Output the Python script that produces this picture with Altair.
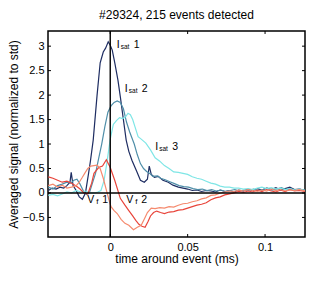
import altair as alt
import pandas as pd

# ---------------- data ----------------
isat1_x = [-0.040,-0.0375,-0.035,-0.0325,-0.030,-0.028,-0.026,-0.0252,-0.024,-0.022,-0.020,-0.018,-0.016,-0.014,-0.0128,-0.011,-0.0085,-0.0065,-0.0045,-0.003,-0.0013,0.0,0.0013,0.003,0.005,0.0065,0.0085,0.0103,0.012,0.014,0.017,0.0195,0.022,0.024,0.0252,0.0265,0.0285,0.031,0.034,0.0375,0.0405,0.044,0.047,0.050,0.053,0.056,0.059,0.062,0.065,0.068,0.071,0.074,0.077,0.080,0.083,0.086,0.089,0.092,0.095,0.098,0.101,0.104,0.107,0.110,0.113,0.116,0.119,0.122,0.126]
isat1_y = [0.05,0.10,0.08,0.12,0.10,0.15,0.22,0.42,0.15,0.05,-0.08,-0.13,0.0,0.4,0.65,1.08,2.0,2.66,2.88,2.96,3.09,3.02,2.92,2.65,2.3,1.97,1.5,1.08,0.85,0.67,0.45,0.26,0.22,0.28,0.55,0.38,0.32,0.34,0.26,0.22,0.16,0.12,0.10,0.08,0.05,0.06,0.03,0.05,0.04,0.02,0.06,0.03,0.05,0.02,0.06,0.04,0.08,0.05,0.09,0.06,0.10,0.07,0.11,0.06,0.09,0.12,0.07,0.08,0.05]

isat2_x = [-0.040,-0.037,-0.034,-0.031,-0.028,-0.0255,-0.0235,-0.0215,-0.0195,-0.0175,-0.0155,-0.0135,-0.0115,-0.0095,-0.0075,-0.0055,-0.0035,-0.0015,0.0005,0.0025,0.0045,0.0065,0.0085,0.0105,0.0125,0.0155,0.0175,0.0195,0.0215,0.0235,0.0255,0.0275,0.0305,0.0325,0.0355,0.0385,0.0415,0.0445,0.0475,0.0505,0.0535,0.0565,0.0595,0.0625,0.0655,0.0685,0.0715,0.0745,0.0775,0.0805,0.0835,0.0865,0.0895,0.0925,0.0955,0.0985,0.1015,0.1045,0.1075,0.1105,0.1135,0.1165,0.1195,0.1225,0.126]
isat2_y = [0.12,0.08,0.15,0.18,0.22,0.2,0.26,0.28,0.18,0.05,-0.03,0.0,0.2,0.4,0.7,1.0,1.35,1.65,1.78,1.85,1.88,1.85,1.72,1.45,1.25,1.0,0.78,0.6,0.5,0.44,0.4,0.34,0.35,0.3,0.27,0.23,0.19,0.15,0.13,0.12,0.09,0.07,0.08,0.05,0.07,0.04,0.06,0.03,0.05,0.07,0.04,0.06,0.05,0.08,0.05,0.07,0.1,0.06,0.08,0.11,0.07,0.09,0.06,0.08,0.05]

isat3_x = [-0.040,-0.037,-0.034,-0.031,-0.028,-0.025,-0.022,-0.019,-0.016,-0.013,-0.010,-0.008,-0.006,-0.004,-0.002,0.0,0.002,0.004,0.006,0.008,0.010,0.0115,0.013,0.0145,0.016,0.018,0.020,0.023,0.026,0.029,0.032,0.035,0.038,0.041,0.044,0.047,0.050,0.053,0.056,0.059,0.062,0.065,0.068,0.071,0.074,0.077,0.080,0.083,0.086,0.089,0.092,0.095,0.098,0.101,0.104,0.107,0.110,0.113,0.116,0.119,0.122,0.126]
isat3_y = [-0.05,-0.03,-0.06,-0.02,0.02,0.0,0.05,0.02,0.04,0.0,0.0,0.02,0.05,0.25,0.65,1.1,1.4,1.48,1.54,1.52,1.56,1.63,1.6,1.5,1.35,1.15,1.1,1.02,0.88,0.72,0.65,0.56,0.5,0.43,0.42,0.4,0.38,0.33,0.3,0.28,0.24,0.2,0.18,0.14,0.12,0.12,0.1,0.1,0.08,0.09,0.07,0.1,0.12,0.09,0.11,0.08,0.1,0.07,0.09,0.06,0.08,0.05]

vf1_x = [-0.040,-0.037,-0.034,-0.031,-0.028,-0.025,-0.022,-0.0195,-0.017,-0.0145,-0.012,-0.0105,-0.0075,-0.005,-0.0025,0.0,0.003,0.0065,0.0095,0.012,0.0145,0.0165,0.0185,0.0205,0.0225,0.0245,0.026,0.028,0.030,0.0325,0.035,0.038,0.041,0.044,0.047,0.050,0.053,0.056,0.059,0.062,0.065,0.068,0.071,0.074,0.077,0.080,0.083,0.086,0.089,0.092,0.095,0.098,0.101,0.104,0.107,0.110,0.113,0.116,0.119,0.122,0.126]
vf1_y = [0.33,0.3,0.26,0.22,0.24,0.2,0.14,0.08,0.0,-0.02,0.2,0.4,0.52,0.55,0.68,0.52,0.25,-0.11,-0.25,-0.36,-0.47,-0.56,-0.64,-0.68,-0.7,-0.58,-0.47,-0.4,-0.37,-0.4,-0.42,-0.39,-0.38,-0.35,-0.34,-0.31,-0.28,-0.25,-0.23,-0.2,-0.14,-0.1,-0.08,-0.04,-0.02,0.0,0.03,0.01,0.04,0.02,0.06,0.03,0.07,0.04,0.02,0.06,0.03,0.07,0.04,0.05,0.03]

vf2_x = [-0.040,-0.037,-0.034,-0.031,-0.028,-0.025,-0.022,-0.020,-0.018,-0.0165,-0.0145,-0.0125,-0.0105,-0.0085,-0.0065,-0.0045,-0.003,-0.001,0.0005,0.0025,0.0045,0.007,0.0095,0.012,0.015,0.0175,0.020,0.0225,0.024,0.0265,0.029,0.032,0.035,0.038,0.041,0.044,0.047,0.050,0.053,0.056,0.059,0.062,0.065,0.068,0.071,0.074,0.077,0.080,0.083,0.086,0.089,0.092,0.095,0.098,0.101,0.104,0.107,0.110,0.113,0.116,0.119,0.122,0.126]
vf2_y = [0.15,0.18,0.12,0.16,0.1,0.12,0.15,0.22,0.32,0.4,0.5,0.55,0.56,0.57,0.5,0.3,0.12,-0.12,-0.28,-0.36,-0.42,-0.54,-0.62,-0.66,-0.75,-0.7,-0.66,-0.5,-0.4,-0.31,-0.32,-0.3,-0.31,-0.28,-0.29,-0.25,-0.22,-0.21,-0.18,-0.16,-0.12,-0.1,-0.05,-0.04,0.0,0.02,0.04,0.03,0.06,0.04,0.07,0.05,0.03,0.06,0.04,0.08,0.05,0.07,0.04,0.06,0.05,0.07,0.04]

series_names = ["Vf 2", "Vf 1", "Isat 3", "Isat 2", "Isat 1"]
series_colors = ["#f58a6e", "#e8443a", "#7fe6e6", "#4f8ea8", "#1e2d62"]

x_ticks = [0, 0.05, 0.1]
y_ticks = [-0.5, 0, 0.5, 1, 1.5, 2, 2.5, 3]
x_domain = [-0.0402, 0.1258]
y_domain = [-0.9, 3.31]

# annotation labels: anchor (x, y), main letter, subscript, number
lab_x = [0.0042, 0.0094, 0.029, -0.0148, 0.0103]
lab_y = [2.965, 2.06, 0.875, -0.21, -0.21]
lab_main = ["I", "I", "I", "V", "V"]
lab_sub = ["sat", "sat", "sat", "f", "f"]
lab_num = ["1", "2", "3", "1", "2"]

FONT = "Liberation Sans"
W, H = 257, 206

# ---------------- build ----------------
frames = []
for name, xs_, ys_ in [("Isat 1", isat1_x, isat1_y), ("Isat 2", isat2_x, isat2_y),
                       ("Isat 3", isat3_x, isat3_y), ("Vf 1", vf1_x, vf1_y),
                       ("Vf 2", vf2_x, vf2_y)]:
    frames.append(pd.DataFrame({"series": name, "x": xs_, "y": ys_}))
df = pd.concat(frames, ignore_index=True)

xs = alt.Scale(domain=x_domain, nice=False, zero=False)
ys = alt.Scale(domain=y_domain, nice=False, zero=False)

xaxis = alt.Axis(values=x_ticks, format="~g", ticks=False, domain=False, grid=False,
                 labelOverlap=False, labelFontSize=11, labelPadding=4,
                 titleFontSize=12, titlePadding=1,
                 titleFontWeight="normal", title="time around event (ms)")
yaxis = alt.Axis(values=y_ticks, format="~g", ticks=False, domain=False, grid=False,
                 labelOverlap=False, labelFontSize=11, labelPadding=4,
                 titleFontSize=12, titlePadding=2,
                 titleFontWeight="normal", title="Averaged signal (normalized to std)")


def X(field):
    return alt.X(field, scale=xs, axis=xaxis)


def Y(field):
    return alt.Y(field, scale=ys, axis=yaxis)


lines = alt.Chart(df).mark_line(strokeWidth=1.2, clip=True).encode(
    x=X("x:Q"),
    y=Y("y:Q"),
    color=alt.Color("series:N", scale=alt.Scale(domain=series_names, range=series_colors), legend=None),
    detail="series:N",
    order=alt.Order("x:Q"),
)

zx = alt.Chart(pd.DataFrame({"v": [0]})).mark_rule(color="black", strokeWidth=1.4).encode(x=X("v:Q"))
zy = alt.Chart(pd.DataFrame({"v": [0]})).mark_rule(color="black", strokeWidth=1.4).encode(y=Y("v:Q"))

xt = pd.DataFrame({"v": x_ticks})
yt = pd.DataFrame({"v": y_ticks})
tick_style = dict(color="black", strokeWidth=1)
tb = alt.Chart(xt).mark_rule(**tick_style).encode(x=X("v:Q"), y=alt.value(H), y2=alt.value(H - 3))
tt = alt.Chart(xt).mark_rule(**tick_style).encode(x=X("v:Q"), y=alt.value(0), y2=alt.value(3))
tl = alt.Chart(yt).mark_rule(**tick_style).encode(y=Y("v:Q"), x=alt.value(0), x2=alt.value(3))
tr = alt.Chart(yt).mark_rule(**tick_style).encode(y=Y("v:Q"), x=alt.value(W), x2=alt.value(W - 3))

labdf = pd.DataFrame({"x": lab_x, "y": lab_y, "main": lab_main, "sub": lab_sub, "num": lab_num})
isat = labdf.iloc[:3]
vf = labdf.iloc[3:]
base_i = alt.Chart(isat).encode(x=X("x:Q"), y=Y("y:Q"))
base_v = alt.Chart(vf).encode(x=X("x:Q"), y=Y("y:Q"))
tx = dict(align="left", baseline="alphabetic", font=FONT, color="black")
labels = [
    base_i.mark_text(fontSize=10.5, **tx).encode(text="main:N"),
    base_i.mark_text(fontSize=6.5, dx=4, dy=1, **tx).encode(text="sub:N"),
    base_i.mark_text(fontSize=10.5, dx=17, **tx).encode(text="num:N"),
    base_v.mark_text(fontSize=10.5, **tx).encode(text="main:N"),
    base_v.mark_text(fontSize=8, dx=9, dy=1, **tx).encode(text="sub:N"),
    base_v.mark_text(fontSize=10.5, dx=15, **tx).encode(text="num:N"),
]

chart = alt.layer(lines, zx, zy, tb, tt, tl, tr, *labels).properties(
    width=W, height=H,
    title=alt.TitleParams("#29324, 215 events detected", fontSize=12, fontWeight="normal",
                          font=FONT, offset=8, anchor="middle"),
    padding={"left": 40, "top": 23, "right": 19, "bottom": 38},
    autosize=alt.AutoSizeParams(type="none"),
).configure(font=FONT).configure_view(stroke="black", strokeWidth=1.5).configure_axis(
    labelFont=FONT, titleFont=FONT, labelColor="black", titleColor="black", labelOverlap=False)

chart.save("out.html", embed_options={"renderer": "svg", "actions": False})
